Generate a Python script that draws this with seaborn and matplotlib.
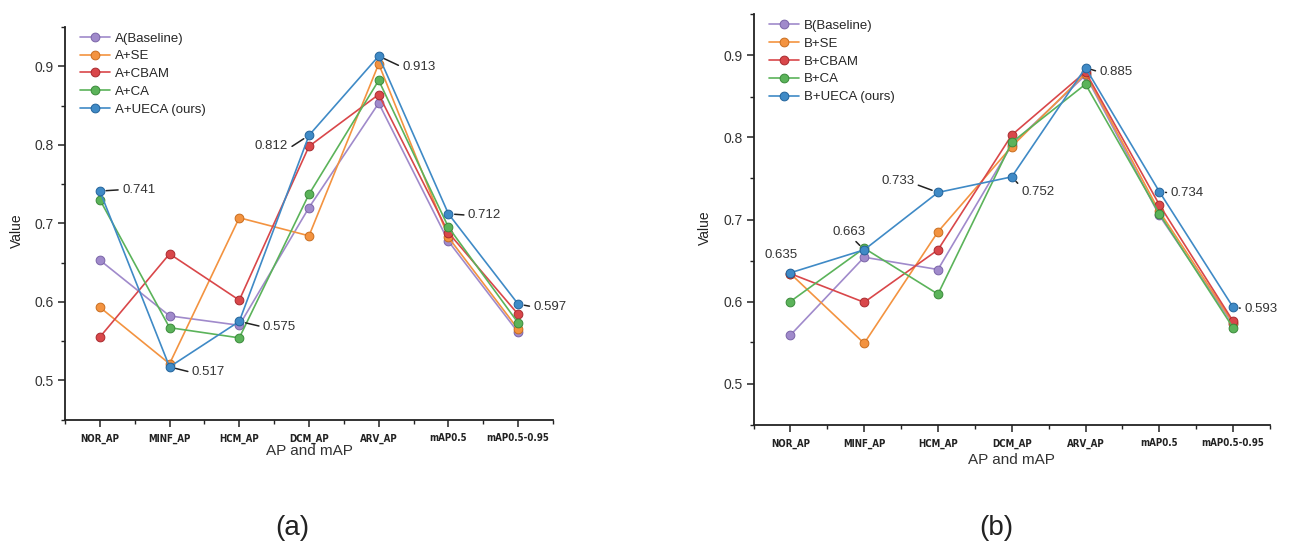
import numpy as np
import pandas as pd
import matplotlib
matplotlib.use("Agg")
import matplotlib.pyplot as plt
from matplotlib import font_manager
import seaborn as sns

# ---------------- data ----------------
categories = ['NOR_AP', 'MINF_AP', 'HCM_AP', 'DCM_AP', 'ARV_AP', 'mAP0.5', 'mAP0.5-0.95']

a_labels = ['A(Baseline)', 'A+SE', 'A+CBAM', 'A+CA', 'A+UECA (ours)']
a_baseline = [0.653, 0.582, 0.570, 0.720, 0.853, 0.677, 0.561]
a_se       = [0.593, 0.521, 0.707, 0.684, 0.903, 0.682, 0.565]
a_cbam     = [0.555, 0.661, 0.602, 0.798, 0.864, 0.688, 0.584]
a_ca       = [0.730, 0.567, 0.554, 0.737, 0.882, 0.695, 0.573]
a_ueca     = [0.741, 0.517, 0.575, 0.812, 0.913, 0.712, 0.597]

b_labels = ['B(Baseline)', 'B+SE', 'B+CBAM', 'B+CA', 'B+UECA (ours)']
b_baseline = [0.559, 0.654, 0.639, 0.791, 0.876, 0.705, 0.572]
b_se       = [0.634, 0.549, 0.685, 0.789, 0.878, 0.710, 0.574]
b_cbam     = [0.634, 0.599, 0.663, 0.803, 0.880, 0.718, 0.576]
b_ca       = [0.600, 0.665, 0.609, 0.794, 0.865, 0.707, 0.568]
b_ueca     = [0.635, 0.663, 0.733, 0.752, 0.885, 0.734, 0.593]

colors = ['#a08acb', '#f39340', '#d9474a', '#5bb35a', '#3f8ac6']
edge_colors = ['#7a64a8', '#c96d1e', '#a82a2e', '#3a8a3a', '#22639b']

# annotation offsets (points) for the "ours" series
a_annot = [(16, 1, 'left'), (16, -4, 'left'), (17, -4, 'left'), (-15, -8, 'right'),
           (17, -8, 'left'), (14, -1, 'left'), (11, -2, 'left')]
b_annot = [(-7, 13, 'center'), (-11, 13, 'center'), (-17, 8, 'right'), (7, -11, 'left'),
           (10, -3, 'left'), (8, -1, 'left'), (8, -1, 'left')]
b_leader = [False, True, True, True, True, True, True]

# ---------------- style ----------------
sns.set_theme(style='ticks')
plt.rcParams['font.family'] = ['Liberation Sans', 'DejaVu Sans']
installed = {f.name for f in font_manager.fontManager.ttflist}
narrow = 'Liberation Sans Narrow' in installed
if narrow:
    tick_kw = dict(family=['Liberation Sans Narrow', 'DejaVu Sans'], fontsize=8)
else:
    tick_kw = dict(family=['DejaVu Sans'], fontstretch='condensed', fontsize=7)

fig = plt.figure(figsize=(12.9, 5.49), dpi=100)
ax_a = fig.add_axes([65 / 1290, 1 - 419.5 / 549, 488 / 1290, 392.5 / 549])
ax_b = fig.add_axes([753.5 / 1290, 1 - 424.5 / 549, 516.5 / 1290, 410 / 549])


def draw(ax, labels, series, annot, leader, label_x, xlabel_y, sub, sub_x):
    pos = np.arange(len(categories))
    frames = []
    for lab, vals in zip(labels, series):
        frames.append(pd.DataFrame({'pos': pos, 'value': vals, 'model': lab}))
    df = pd.concat(frames, ignore_index=True)
    sns.lineplot(data=df, x='pos', y='value', hue='model', hue_order=labels,
                 palette=colors, marker='o', markersize=6.3, linewidth=1.2,
                 sort=False, legend=False, ax=ax)
    lines = ax.get_lines()[:len(labels)]
    for ln, ec in zip(lines, edge_colors):
        ln.set_markeredgecolor(ec)
        ln.set_markeredgewidth(0.7)
    ax.legend(lines, labels, loc='upper left', bbox_to_anchor=(0.02, 1.0),
              frameon=False, fontsize=9.5, handlelength=2.3, handletextpad=0.35,
              labelspacing=0.42, borderaxespad=0.2, borderpad=0.2)

    ours = series[-1]
    for i, (v, (dx, dy, ha)) in enumerate(zip(ours, annot)):
        if leader[i]:
            if ha == 'left':
                rp = (0.0, 0.5)
            elif ha == 'right':
                rp = (1.0, 0.3)
            else:
                rp = (0.6, 0.0)
            if i == 3 and ha == 'left' and dy < -9:
                rp = (0.0, 0.9)
            ap = dict(arrowstyle='-', color='#222222', lw=1.1, shrinkA=0.5,
                      shrinkB=4.5, relpos=rp)
        else:
            ap = None
        ax.annotate(f'{v:.3f}', xy=(pos[i], v), xytext=(dx, dy),
                    textcoords='offset points', ha=ha, va='center',
                    fontsize=9.5, color='#333333', arrowprops=ap)

    ax.set_xlim(-0.5, len(categories) - 0.5)
    ax.set_ylim(0.45, 0.95)
    ax.set_xticks(pos)
    ax.set_xticklabels(categories, fontweight='bold', color='#222222', **tick_kw)
    ax.set_xticks(np.arange(-0.5, len(categories), 1.0), minor=True)
    ax.set_yticks([0.5, 0.6, 0.7, 0.8, 0.9])
    ax.set_yticklabels(['0.5', '0.6', '0.7', '0.8', '0.9'], fontsize=10, color='#333333')
    ax.set_yticks(np.arange(0.45, 0.951, 0.05), minor=True)
    ax.tick_params(axis='both', which='major', direction='out', length=5, width=1.1,
                   color='#222222')
    ax.tick_params(axis='both', which='minor', direction='out', length=3, width=1.0,
                   color='#222222')
    ax.tick_params(axis='x', which='major', pad=5)
    ax.tick_params(axis='y', which='major', pad=3)
    for side in ['top', 'right']:
        ax.spines[side].set_visible(False)
    for side in ['left', 'bottom']:
        ax.spines[side].set_linewidth(1.3)
        ax.spines[side].set_color('#222222')
    ax.set_xlabel('AP and mAP', fontsize=11, color='#333333')
    ax.set_ylabel('Value', fontsize=10, color='#222222')
    ax.xaxis.set_label_coords(0.5, xlabel_y)
    ax.yaxis.set_label_coords(label_x, 0.48)
    fig.text(sub_x, 1 - 528 / 549, sub, fontsize=20, ha='center', va='center',
             color='#222222')


draw(ax_a, a_labels, [a_baseline, a_se, a_cbam, a_ca, a_ueca], a_annot,
     [True] * 7, -0.085, -0.062, '(a)', 292 / 1290)
draw(ax_b, b_labels, [b_baseline, b_se, b_cbam, b_ca, b_ueca], b_annot,
     b_leader, -0.080, -0.070, '(b)', 996 / 1290)

fig.savefig('out.png', dpi=100, facecolor='white')
